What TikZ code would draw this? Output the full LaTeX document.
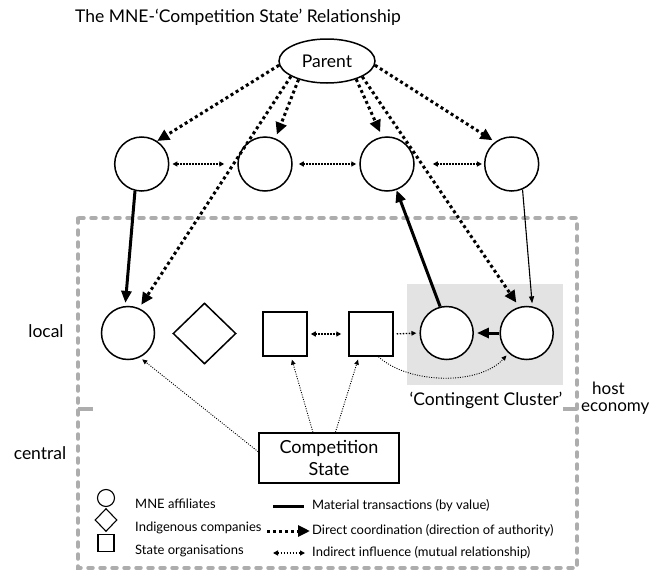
\documentclass[tikz,border=0pt]{standalone}
\usepackage{fontspec}
\setmainfont{Lato}
\usetikzlibrary{arrows.meta,shapes.geometric}
\begin{document}
\begin{tikzpicture}[x=1pt,y=-1pt,
  shp/.style={draw,line width=1.5pt,inner sep=0pt,fill=white},
  aff/.style={shp,circle,minimum size=54pt},
  loc/.style={shp,circle,minimum size=53pt},
  org/.style={shp,rectangle,minimum width=44pt,minimum height=44pt},
  direct/.style={line width=3pt,dash pattern=on 3pt off 3pt,-{Triangle[length=12pt,width=11pt]}},
  material/.style={line width=3pt,-{Triangle[length=12pt,width=10pt]}},
  thinmat/.style={line width=1.1pt,-{Triangle[length=7pt,width=5pt]}},
  indirect/.style={line width=1.3pt,dash pattern=on 1.5pt off 1.5pt,{Triangle[length=5pt,width=5pt]}-{Triangle[length=5pt,width=5pt]}},
  influence/.style={line width=0.9pt,dash pattern=on 1pt off 1.4pt,-{Triangle[length=5pt,width=4.5pt]}},
  lbl/.style={font=\fontsize{17.5}{20}\selectfont},
  leg/.style={font=\fontsize{13}{15}\selectfont,anchor=west,inner sep=0pt},
  legshape/.style={draw,line width=1.1pt,inner sep=0pt}
]
\useasboundingbox (0,0) rectangle (662,573);

% cluster background and host economy box
\fill[black!11] (407,284) rectangle (563,385);
\draw[black!32,line width=3.5pt,line cap=round,dash pattern=on 5pt off 7pt] (78,218) rectangle (577,568);
\draw[black!32,line width=3.5pt] (78,409) -- (93,409);
\draw[black!32,line width=3.5pt] (577,409) -- (563,409);

% title
\node[anchor=west,inner sep=0pt,font=\fontsize{17.5}{20}\selectfont] (title) at (75,17) {The MNE-‘Competition State’ Relationship};

% nodes
\node[shp,ellipse,minimum width=96pt,minimum height=44pt,font=\fontsize{17.5}{20}\selectfont] (parent) at (327,61) {Parent};
\node[aff] (t1) at (141.7,164) {};
\node[aff] (t2) at (265,164) {};
\node[aff] (t3) at (387,164) {};
\node[aff] (t4) at (511.7,164) {};
\node[loc] (l1) at (128,333) {};
\node[shp,diamond,minimum width=63pt,minimum height=61pt] (d1) at (204.5,333.5) {};
\node[org] (s1) at (285,334) {};
\node[org] (s2) at (371,334) {};
\node[loc] (l3) at (446.7,333) {};
\node[loc] (l4) at (526.7,333) {};
\node[shp,rectangle,minimum width=140pt,minimum height=50pt,align=center,font=\fontsize{18}{22}\selectfont] (comp) at (329,458) {Competition\\State};

% labels
\node[lbl] (local) at (46,331) {local};
\node[lbl] (central) at (40,453) {central};
\node[lbl,anchor=base west,inner sep=0pt,font=\fontsize{17}{20}\selectfont] (host) at (592,394) {host};
\node[lbl,anchor=base west,inner sep=0pt,font=\fontsize{17}{20}\selectfont] (econ) at (581,411) {economy};
\node[lbl] (cluster) at (486,400) {‘Contingent Cluster’};

% direct coordination from parent
\draw[direct] (parent.185) -- (t1.56);
\draw[direct,shorten >=4pt] (parent.213) -- (t2.68);
\draw[direct,shorten >=5pt] (parent.328) -- (t3.100);
\draw[direct,shorten >=3pt] (parent.355) -- (t4.127);
\draw[direct,shorten >=4pt] (parent.203) -- (l1.66);
\draw[direct,shorten >=5pt] (parent.336) -- (l4.106);

% material transactions
\draw[material,shorten >=3pt] (t1.256) -- (l1.96);
\draw[material] (l3.104) -- (t3.290);
\draw[thinmat,shorten >=3pt] (t4.293) -- (l4.78);
\draw[material,shorten >=3pt] (l4.west) -- (l3.east);

% indirect influence
\draw[indirect,shorten <=3pt,shorten >=13pt] (t1.east) -- (t2.west);
\draw[indirect,shorten <=6pt,shorten >=3pt] (t2.east) -- (t3.west);
\draw[indirect,shorten <=18pt,shorten >=2pt] (t3.east) -- (t4.west);
\draw[indirect,shorten <=3pt,shorten >=7pt] (s1.east) -- (s2.west);
\draw[influence,line width=1.3pt,dash pattern=on 1.5pt off 1.5pt,shorten <=3pt,shorten >=3pt] (s2.east) -- (l3.west);
\draw[influence,shorten >=3pt] (s2.288) .. controls (410,385) and (480,385) .. (l4.228);

% competition state influence
\draw[influence,shorten >=3pt] (comp.175) -- (l1.296);
\draw[influence,shorten >=3pt] (comp.122) -- (s1.285);
\draw[influence,shorten >=3pt] (comp.76) -- (s2.242);

% legend
\node[legshape,circle,minimum size=17pt] (lgA) at (106,498) {};
\node[legshape,diamond,minimum width=22pt,minimum height=23pt] (lgB) at (106,520) {};
\node[legshape,rectangle,minimum width=16pt,minimum height=17pt] (lgC) at (106,543) {};
\node[leg] (tA) at (135,504) {MNE affiliates};
\node[leg] (tB) at (135,528) {Indigenous companies};
\node[leg] (tC) at (135,551) {State organisations};
\coordinate (ma) at (273,506);
\coordinate (mb) at (304,506);
\coordinate (da) at (267,531);
\coordinate (db) at (310,531);
\coordinate (ia) at (273,553);
\coordinate (ib) at (305,553);
\draw[line width=3pt] (ma) -- (mb);
\draw[direct] (da) -- (db);
\draw[indirect] (ia) -- (ib);
\node[leg] (tM) at (312,506) {Material transactions (by value)};
\node[leg] (tD) at (312,531) {Direct coordination (direction of authority)};
\node[leg] (tI) at (312,553) {Indirect influence (mutual relationship)};
\end{tikzpicture}
\end{document}
